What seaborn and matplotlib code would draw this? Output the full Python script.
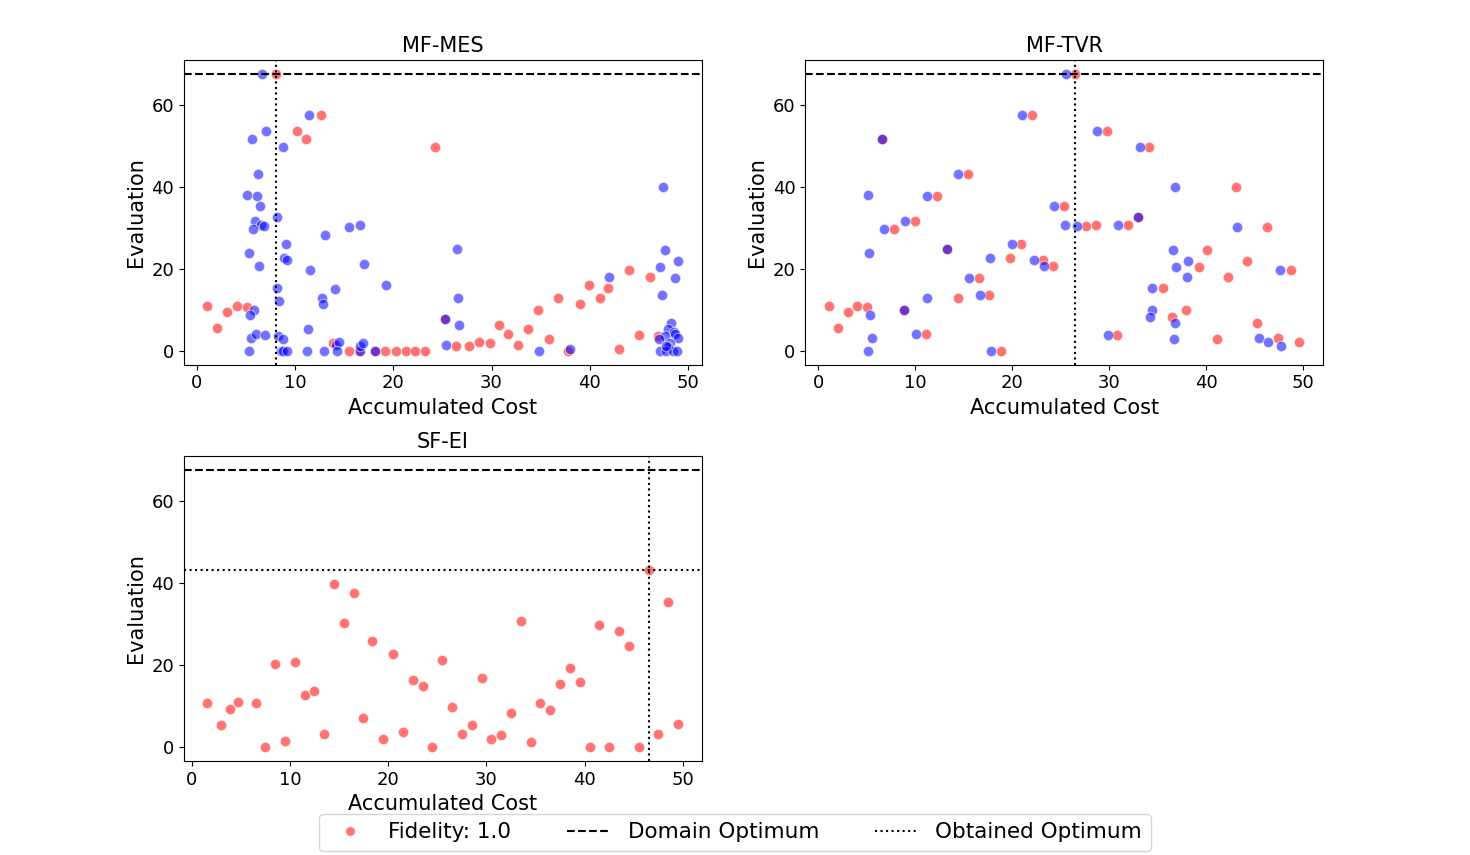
import numpy as np
import pandas as pd
import seaborn as sns
import matplotlib
matplotlib.use("Agg")
import matplotlib.pyplot as plt
from matplotlib.lines import Line2D

# ------------ DATA ------------
DOMAIN_OPT = 67.6

# MF-MES
mes_hi_cost = [1.05, 2.07, 3.1, 4.1, 5.1, 8.0, 10.2, 11.1, 12.6, 13.9, 15.5, 16.5, 18.1, 19.2,
               20.3, 21.3, 22.2, 23.2, 24.2, 25.3, 26.4, 27.7, 28.7, 29.8, 30.8, 31.7, 32.7,
               33.7, 34.7, 35.9, 36.8, 37.8, 39.0, 39.95, 41.0, 41.9, 43.0, 44.0, 45.0, 46.1, 47.0]
mes_hi_eval = [10.9, 5.6, 9.4, 10.9, 10.7, 67.6, 53.7, 51.6, 57.6, 1.9, 0, 0, 0, 0,
               0, 0, 0, 0, 49.7, 7.8, 1.2, 1.2, 2.1, 1.9, 6.3, 4.1, 1.5,
               5.4, 10.0, 2.9, 12.9, 0, 11.4, 16.0, 12.9, 15.3, 0.5, 19.7, 3.8, 18.0, 3.7]
mes_lo_cost = [6.65, 11.4, 7.0, 5.63, 8.72, 6.25, 5.12, 6.14, 6.45, 8.1, 5.94, 6.5, 6.8, 5.74,
               13.0, 15.5, 16.6, 9.1, 5.33, 8.9, 9.2, 6.35, 11.5, 17.0, 19.3, 8.18, 14.1, 8.4,
               12.7, 12.8, 5.84, 5.43, 11.3, 25.3, 5.5, 6.0, 6.9, 8.28, 8.8, 5.26, 8.6, 8.75,
               9.2, 11.2, 12.9, 14.2, 14.5, 14.3, 16.6, 16.6, 16.9, 18.1, 25.4, 26.5, 26.6,
               26.7, 34.8, 37.95, 42.0, 47.5, 47.7, 47.2, 49.0, 48.7, 47.4, 48.3, 48.0, 48.6,
               48.7, 47.7, 47.1, 49.0, 48.2, 48.0, 47.2, 47.8, 48.5, 48.9, 47.8]
mes_lo_eval = [67.6, 57.6, 53.7, 51.6, 49.7, 43.1, 38.0, 37.8, 35.4, 32.6, 31.6, 30.8, 30.5, 29.7,
               28.2, 30.2, 30.6, 26.0, 23.8, 22.7, 22.2, 20.6, 19.8, 21.2, 16.0, 15.3, 15.1, 12.2,
               12.9, 11.4, 10.0, 8.7, 5.4, 7.8, 3.2, 4.1, 3.9, 3.7, 2.8, 0, 0, 0,
               0, 0, 0, 1.3, 2.2, 0, 0, 1.2, 1.9, 0, 1.5, 24.9, 12.9,
               6.3, 0, 0.5, 18.0, 39.9, 24.6, 20.5, 22.0, 17.8, 13.7, 6.7, 5.3, 4.5,
               4.0, 3.7, 3.0, 3.1, 2.0, 0.9, 0, 0, 0, 0, 1.2]
mes_best_cost = 8.0

# MF-TVR
tvr_hi_cost = [1.07, 2.0, 3.03, 4.03, 5.0, 6.6, 7.78, 8.8, 9.96, 11.05, 12.2, 13.3, 14.4, 15.4,
               16.6, 17.6, 18.8, 19.8, 20.9, 22.0, 23.2, 24.2, 25.3, 26.5, 27.6, 28.6, 29.8,
               30.8, 31.95, 33.0, 34.1, 35.5, 36.5, 37.9, 39.2, 40.1, 41.1, 42.2, 43.1, 44.2,
               45.2, 46.3, 47.4, 48.7, 49.6]
tvr_hi_eval = [10.9, 5.6, 9.4, 10.9, 10.7, 51.6, 29.7, 10.0, 31.6, 4.1, 37.8, 24.8, 12.9, 43.1,
               17.7, 13.6, 0, 22.6, 26.0, 57.6, 22.2, 20.6, 35.4, 67.6, 30.5, 30.7, 53.7,
               3.8, 30.7, 32.7, 49.7, 15.3, 8.3, 10.0, 20.4, 24.6, 2.85, 18.0, 39.9, 21.9,
               6.8, 30.2, 3.1, 19.7, 2.1]
tvr_lo_cost = [5.37, 5.1, 5.27, 5.5, 5.17, 6.6, 6.75, 8.9, 8.8, 10.05, 11.2, 11.2, 13.3, 14.4,
               15.5, 16.7, 17.7, 17.8, 20.0, 21.0, 22.2, 23.3, 24.3, 25.4, 25.5, 26.7, 28.75,
               29.9, 30.9, 33.0, 33.2, 34.4, 34.4, 34.2, 36.8, 36.7, 36.8, 36.6, 36.9, 38.15,
               38.0, 43.2, 45.4, 46.4, 47.55, 47.7]
tvr_lo_eval = [8.7, 38.0, 23.8, 3.2, 0, 51.6, 29.7, 31.6, 10.0, 4.1, 12.9, 37.8, 24.8, 43.1,
               17.7, 13.6, 22.6, 0, 26.0, 57.6, 22.2, 20.6, 35.4, 30.6, 67.6, 30.5, 53.7,
               3.8, 30.7, 32.7, 49.7, 15.3, 10.0, 8.3, 6.8, 2.85, 39.9, 24.6, 20.4, 21.9,
               18.0, 30.2, 3.1, 2.1, 19.7, 1.15]
tvr_best_cost = 26.5

# SF-EI
ei_cost = [1.59, 3.0, 3.93, 4.74, 6.5, 7.5, 8.5, 9.5, 10.5, 11.5, 12.5, 13.5, 14.5, 15.5, 16.5,
           17.4, 18.4, 19.5, 20.5, 21.5, 22.5, 23.5, 24.5, 25.5, 26.5, 27.5, 28.5, 29.5, 30.5,
           31.5, 32.5, 33.5, 34.5, 35.5, 36.5, 37.5, 38.5, 39.5, 40.5, 41.5, 42.5, 43.5, 44.5,
           45.5, 46.5, 47.5, 48.5, 49.5]
ei_eval = [10.7, 5.5, 9.4, 11.0, 10.7, 0, 20.2, 1.4, 20.7, 12.7, 13.8, 3.3, 39.7, 30.2, 37.7,
           7.0, 25.8, 1.9, 22.6, 3.8, 16.3, 14.9, 0, 21.2, 9.7, 3.2, 5.4, 16.8, 2.0,
           2.9, 8.3, 30.7, 1.2, 10.7, 9.0, 15.3, 19.4, 15.8, 0, 29.7, 0, 28.3, 24.6,
           0, 43.2, 3.1, 35.4, 5.6]
ei_best_cost = 46.5
ei_best_eval = 43.2
# -------------------------------------------------------

# plain matplotlib look (black text and spines)
plt.rcParams["font.family"] = ["DejaVu Sans"]

fig, axes = plt.subplots(2, 2, figsize=(14.7, 8.55), dpi=100)
fig.subplots_adjust(left=0.125, right=0.9, bottom=0.11, top=0.93, wspace=0.2, hspace=0.3)

point_kw = dict(s=56, alpha=0.55, linewidth=0.8, edgecolor="white")


def draw_panel(ax, title, hi_cost, hi_eval, lo_cost=None, lo_eval=None, best_cost=None, best_eval=None):
    hi = pd.DataFrame({"cost": hi_cost, "eval": hi_eval})
    sns.scatterplot(data=hi, x="cost", y="eval", color="red", ax=ax, **point_kw)
    if lo_cost is not None:
        lo = pd.DataFrame({"cost": lo_cost, "eval": lo_eval})
        sns.scatterplot(data=lo, x="cost", y="eval", color="blue", ax=ax, **point_kw)
    ax.axhline(DOMAIN_OPT, color="black", linestyle="--", linewidth=1.5)
    ax.axvline(best_cost, color="black", linestyle=":", linewidth=1.5)
    if best_eval is not None:
        ax.axhline(best_eval, color="black", linestyle=":", linewidth=1.5)
    ax.set_title(title, fontsize=15)
    ax.set_xlabel("Accumulated Cost", fontsize=15)
    ax.set_ylabel("Evaluation", fontsize=15)
    ax.set_xticks([0, 10, 20, 30, 40, 50])
    ax.set_yticks([0, 20, 40, 60])
    ax.tick_params(labelsize=13)


draw_panel(axes[0, 0], "MF-MES", mes_hi_cost, mes_hi_eval, mes_lo_cost, mes_lo_eval, mes_best_cost)
draw_panel(axes[0, 1], "MF-TVR", tvr_hi_cost, tvr_hi_eval, tvr_lo_cost, tvr_lo_eval, tvr_best_cost)
draw_panel(axes[1, 0], "SF-EI", ei_cost, ei_eval, best_cost=ei_best_cost, best_eval=ei_best_eval)
axes[1, 1].axis("off")

handles = [
    Line2D([], [], marker="o", linestyle="", color="red", alpha=0.55, markersize=7,
           markeredgecolor="white", label="Fidelity: 1.0"),
    Line2D([], [], color="black", linestyle="--", linewidth=1.5, label="Domain Optimum"),
    Line2D([], [], color="black", linestyle=":", linewidth=1.5, label="Obtained Optimum"),
]
fig.legend(handles=handles, loc="lower center", ncol=3, fontsize=15.5,
           bbox_to_anchor=(0.5, -0.008), columnspacing=2.6)

plt.savefig("out.png", dpi=100)
